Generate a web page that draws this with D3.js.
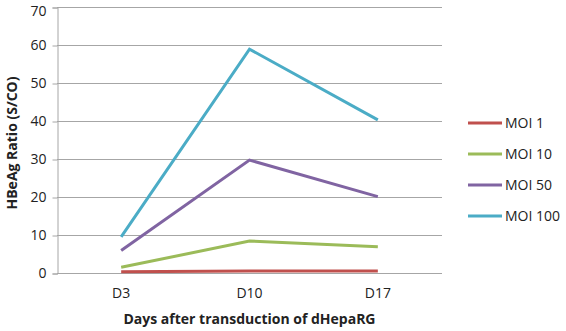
<!DOCTYPE html>
<html>
<head>
<meta charset="utf-8">
<script src="https://cdn.jsdelivr.net/npm/d3@7"></script>
<style>
  body { margin: 0; background: #fff; }
  text { font-family: "Open Sans", sans-serif; fill: #222; }
</style>
</head>
<body>
<svg id="chart" width="566" height="331"></svg>
<script>
// data
const days = ["D3", "D10", "D17"];
const seriesNames = ["MOI 1", "MOI 10", "MOI 50", "MOI 100"];
const moi1 = [0.3, 0.5, 0.5];
const moi10 = [1.5, 8.4, 6.9];
const moi50 = [5.9, 29.7, 20.1];
const moi100 = [9.5, 58.9, 40.3];
const yTicks = [0, 10, 20, 30, 40, 50, 60, 70];

const colors = ["#C0504D", "#9BBB59", "#8064A2", "#4BACC6"];
const series = [moi1, moi10, moi50, moi100];

const svg = d3.select("#chart");
const margin = { left: 57, right: 124, top: 7, bottom: 58 };
const width = 566, height = 331;

const x = d3.scaleBand()
  .domain(days)
  .range([margin.left, width - margin.right]);

const y = d3.scaleLinear()
  .domain([0, 70])
  .range([height - margin.bottom, margin.top]);

// gridlines
svg.append("g")
  .selectAll("line")
  .data(yTicks)
  .enter().append("line")
  .attr("x1", margin.left)
  .attr("x2", width - margin.right)
  .attr("y1", d => y(d) + 0.5)
  .attr("y2", d => y(d) + 0.5)
  .attr("stroke", "#a6a6a6")
  .attr("stroke-width", 1);

// y axis
const yAxis = svg.append("g")
  .attr("transform", `translate(${margin.left + 0.5},0.5)`)
  .call(d3.axisLeft(y).tickValues(yTicks).tickSize(5).tickPadding(6));
yAxis.select(".domain").attr("stroke", "#a6a6a6");
yAxis.selectAll(".tick line").attr("stroke", "#a6a6a6");
yAxis.selectAll("text").style("font-size", "14px").attr("fill", "#222");
// top label sits a little lower so it stays inside the picture
yAxis.selectAll("text").filter(d => d === 70).attr("dy", "0.55em");

// x axis labels
const xAxis = svg.append("g")
  .attr("transform", `translate(0,${height - margin.bottom + 0.5})`)
  .call(d3.axisBottom(x).tickSize(0).tickPadding(15));
xAxis.select(".domain").remove();
xAxis.selectAll("text").style("font-size", "14px").attr("fill", "#222");

// lines
const line = d3.line()
  .x((d, i) => x(days[i]) + x.bandwidth() / 2)
  .y(d => y(d));

svg.append("g")
  .selectAll("path")
  .data(series)
  .enter().append("path")
  .attr("d", line)
  .attr("fill", "none")
  .attr("stroke", (d, i) => colors[i])
  .attr("stroke-width", 3);

// axis titles
svg.append("text")
  .attr("x", (margin.left + width - margin.right) / 2)
  .attr("y", 324)
  .attr("text-anchor", "middle")
  .style("font-size", "14px")
  .style("font-weight", "bold")
  .text("Days after transduction  of dHepaRG");

svg.append("text")
  .attr("transform", "translate(17,143) rotate(-90)")
  .attr("text-anchor", "middle")
  .style("font-size", "14px")
  .style("font-weight", "bold")
  .text("HBeAg Ratio (S/CO)");

// legend
const legend = svg.append("g")
  .selectAll("g")
  .data(seriesNames)
  .enter().append("g")
  .attr("transform", (d, i) => `translate(468,${123 + i * 31})`);

legend.append("line")
  .attr("x1", 0)
  .attr("x2", 34)
  .attr("stroke", (d, i) => colors[i])
  .attr("stroke-width", 3);

legend.append("text")
  .attr("x", 37)
  .attr("dy", "0.35em")
  .style("font-size", "14px")
  .text(d => d);
</script>
</body>
</html>
